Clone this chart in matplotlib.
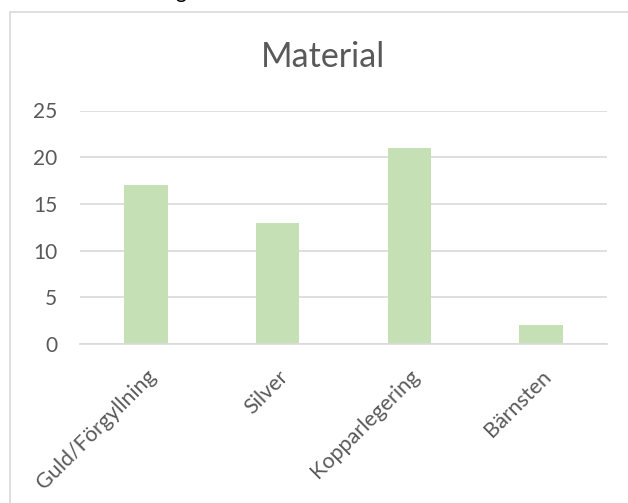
import matplotlib.pyplot as plt
import matplotlib.transforms as mtransforms
from matplotlib.patches import Rectangle

categories = ["Guld/Förgyllning", "Silver", "Kopparlegering", "Bärnsten"]
values = [17, 13, 21, 2]
yticks = [0, 5, 10, 15, 20, 25]

plt.rcParams['font.family'] = ['Lato', 'DejaVu Sans']

fig = plt.figure(figsize=(6.28, 5.03), dpi=100)

# chart frame like the Excel chart area
fig.patches.append(Rectangle((10 / 628, -0.05), 1.0, 1.05 - 12 / 503,
                             transform=fig.transFigure, fill=False,
                             edgecolor='#D9D9D9', linewidth=1.2))

# clipped bit of caption text above the chart
fig.text(181 / 628, 1.004, "g", ha='center', va='baseline',
         fontsize=15, color='black')

ax = fig.add_axes([80 / 628, 1 - 344 / 503, 527 / 628, 233.5 / 503])

x = range(len(categories))
ax.bar(x, values, width=0.33, color='#C5E0B4', zorder=2)

ax.set_xlim(-0.5, len(categories) - 0.5)
ax.set_ylim(0, 25)
ax.set_yticks(yticks)
ax.set_yticklabels([str(v) for v in yticks], fontsize=15, color='#595959')
ax.set_xticks(list(x))
ax.set_xticklabels(categories, rotation=45, ha='right', va='top',
                   rotation_mode='anchor', fontsize=15.5, color='#595959')

# nudge rotated labels a little left, as in the original
shift = mtransforms.ScaledTranslation(-7 / 100, 0, fig.dpi_scale_trans)
for lab in ax.get_xticklabels():
    lab.set_transform(lab.get_transform() + shift)

ax.grid(axis='y', color='#D9D9D9', linewidth=1.2, zorder=0)
ax.tick_params(axis='y', length=0, pad=16.5)
ax.tick_params(axis='x', length=0, pad=16)
for s in ax.spines.values():
    s.set_visible(False)
ax.spines['bottom'].set_visible(True)
ax.spines['bottom'].set_color('#D9D9D9')
ax.spines['bottom'].set_linewidth(1.2)

fig.text(323.5 / 628, 1 - 67 / 503, "Material", ha='center', va='baseline',
         fontsize=24.5, color='#595959')

plt.savefig("out.png", dpi=100)
plt.close()
